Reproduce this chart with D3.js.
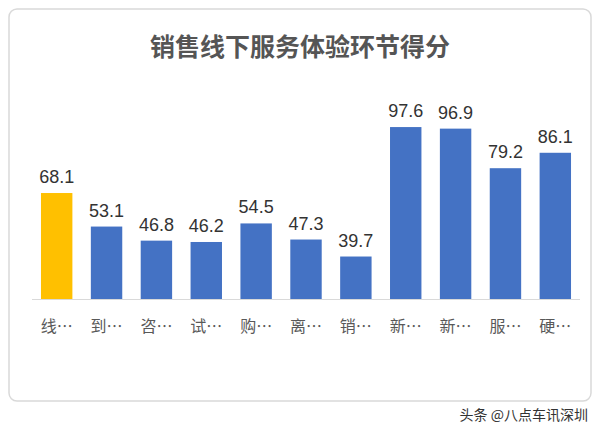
<!DOCTYPE html>
<html><head><meta charset="utf-8">
<script src="https://cdn.jsdelivr.net/npm/d3@7"></script>
<style>body{margin:0;background:#fff;font-family:"Noto Sans CJK SC","Noto Sans",sans-serif;}</style>
</head><body>
<script>
// data
const categories = ['线…', '到…', '咨…', '试…', '购…', '离…', '销…', '新…', '新…', '服…', '硬…'];
const scores = [68.1, 53.1, 46.8, 46.2, 54.5, 47.3, 39.7, 97.6, 96.9, 79.2, 86.1];
const highlight = [true, false, false, false, false, false, false, false, false, false, false];

let w = 600, h = 431;
let svg = d3.select('body').append('svg').attr('width', w).attr('height', h);

svg.append('rect').attr('x', 9).attr('y', 9).attr('width', 582).attr('height', 392)
  .attr('rx', 8).attr('fill', '#fff').attr('stroke', '#d9d9d9').attr('stroke-width', 1.5);

svg.append('text').attr('x', 300).attr('y', 56).attr('text-anchor', 'middle')
  .attr('font-size', 25).attr('font-weight', 'bold').attr('fill', '#555')
  .text('销售线下服务体验环节得分');

let x = d3.scaleBand().domain(d3.range(categories.length)).range([32, 580]).paddingInner(0.37).paddingOuter(0.18);
let y = d3.scaleLinear().domain([20.7, 100]).range([299, 121.7]);

svg.selectAll('.bar').data(scores).enter().append('rect')
  .attr('x', (d, i) => x(i)).attr('y', d => y(d))
  .attr('width', x.bandwidth()).attr('height', d => y(20.7) - y(d))
  .attr('fill', (d, i) => highlight[i] ? '#ffc000' : '#4472c4');

svg.selectAll('.val').data(scores).enter().append('text')
  .attr('x', (d, i) => x(i) + x.bandwidth() / 2).attr('y', d => y(d) - 10)
  .attr('text-anchor', 'middle').attr('font-size', 18).attr('fill', '#333')
  .attr('font-family', 'Arial, "Liberation Sans", sans-serif')
  .text(d => d.toFixed(1));

svg.append('line').attr('x1', 32).attr('x2', 580).attr('y1', 299.5).attr('y2', 299.5)
  .attr('stroke', '#d9d9d9');

svg.selectAll('.cat').data(categories).enter().append('text')
  .attr('x', (d, i) => x(i) + x.bandwidth() / 2).attr('y', 332)
  .attr('text-anchor', 'middle').attr('font-size', 16).attr('fill', '#595959')
  .text(d => d);

svg.append('text').attr('x', 588).attr('y', 420).attr('text-anchor', 'end')
  .attr('font-size', 14).attr('fill', '#333').text('头条 @八点车讯深圳');
</script>
</body></html>
